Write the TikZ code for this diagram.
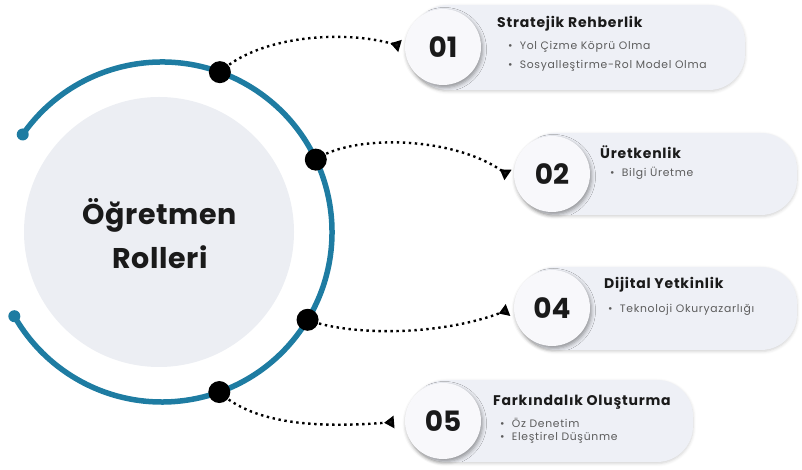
\documentclass[tikz,border=0pt]{standalone}
\usepackage{fontspec}
\setmainfont{Poppins}
\usetikzlibrary{arrows.meta,shadows.blur}
\definecolor{arcblue}{HTML}{1E7CA2}
\definecolor{hubc}{HTML}{ECEEF3}
\definecolor{cardc}{HTML}{EEF0F6}
\definecolor{numc}{HTML}{F8F8FB}
\definecolor{txtc}{HTML}{1A1A1A}
\definecolor{subc}{HTML}{5C5C5C}
\tikzset{
  card/.style={fill=cardc, rounded corners=36pt, blur shadow={shadow xshift=0pt, shadow yshift=-1.5pt, shadow blur radius=3pt, shadow opacity=18}},
  numcirc/.style={circle, fill=numc, minimum size=76pt, inner sep=0pt, text=txtc,
    font=\fontsize{28}{28}\selectfont\bfseries,
    blur shadow={shadow xshift=1.5pt, shadow yshift=-2.5pt, shadow blur radius=4pt, shadow opacity=40}},
  ttl/.style={anchor=west, inner sep=0pt, text=txtc, font=\fontsize{14}{15}\selectfont\bfseries\addfontfeature{LetterSpace=5.5}},
  bul/.style={anchor=west, inner sep=0pt, text=subc, font=\fontsize{10.8}{12}\selectfont\addfontfeature{LetterSpace=6.5}},
  bigdot/.style={circle, fill=black, minimum size=22pt, inner sep=0pt},
  enddot/.style={circle, fill=arcblue, minimum size=12pt, inner sep=0pt},
  link/.style={line width=2.4pt, dash pattern=on 2.4pt off 3.6pt, -{Triangle[reversed,length=10pt,width=12pt]}}
}
\begin{document}
\begin{tikzpicture}[x=1pt,y=1pt]
\useasboundingbox (0,0) rectangle (802,470);
% hub
\node[circle, fill=hubc, minimum size=270pt, inner sep=0pt] (hub) at (159,238) {};
\node[align=center, text=txtc, font=\fontsize{28.5}{44}\selectfont\bfseries\addfontfeature{LetterSpace=2}] (hubtext) at (160,236) {Öğretmen\\Rolleri};
% arc
\coordinate (ac) at (162,238);
\draw[arcblue, line width=5.5pt] ([shift={(145:170pt)}]ac) arc[start angle=145, end angle=-150.3, radius=170pt];
\node[enddot] (e1) at ([shift={(145:170pt)}]ac) {};
\node[enddot] (e2) at ([shift={(-150.3:170pt)}]ac) {};
% cards
\fill[card] (412,380) rectangle (745,465);
\fill[card] (520,255) rectangle (797,337);
\fill[card] (520,120) rectangle (797,203);
\fill[card] (410,8) rectangle (693,90);
\node[numcirc] (n1) at (443,423) {01};
\node[numcirc] (n2) at (552,296) {02};
\node[numcirc] (n4) at (552,162) {04};
\node[numcirc] (n5) at (443,49) {05};
% arrow end points
\coordinate (t1) at (400,424);
\coordinate (t2) at (508,295);
\coordinate (t4) at (508,160);
\coordinate (t5) at (394,48);
% dots positions
\coordinate (d1) at ([shift={(70.1:170pt)}]ac);
\coordinate (d2) at ([shift={(25.2:170pt)}]ac);
\coordinate (d4) at ([shift={(-31.1:170pt)}]ac);
\coordinate (d5) at ([shift={(-70.3:170pt)}]ac);
% links
\draw[link] (d1) .. controls (260,435) and (345,440) .. (t1);
\draw[link] (d2) .. controls (350,335) and (450,335) .. (t2);
\draw[link] (d4) .. controls (350,134) and (440,134) .. (t4);
\draw[link] (d5) .. controls (255,45) and (320,42) .. (t5);
\node[bigdot] (b1) at (d1) {};
\node[bigdot] (b2) at (d2) {};
\node[bigdot] (b4) at (d4) {};
\node[bigdot] (b5) at (d5) {};
% texts
\node[ttl] (h1) at (497,446) {Stratejik Rehberlik};
\node[bul] (p11) at (508,423) {\textbullet\ \ Yol Çizme Köprü Olma};
\node[bul] (p12) at (508,404) {\textbullet\ \ Sosyalleştirme-Rol Model Olma};
\node[ttl] (h2) at (600,318) {Üretkenlik};
\node[bul] (p21) at (610,297) {\textbullet\ \ Bilgi Üretme};
\node[ttl] (h4) at (604,185) {Dijital Yetkinlik};
\node[bul] (p41) at (608,160) {\textbullet\ \ Teknoloji Okuryazarlığı};
\node[ttl] (h5) at (493,68) {Farkındalık Oluşturma};
\node[bul] (p51) at (500,47) {\textbullet\ \ Öz Denetim};
\node[bul] (p52) at (500,32) {\textbullet\ \ Eleştirel Düşünme};
\end{tikzpicture}
\end{document}
